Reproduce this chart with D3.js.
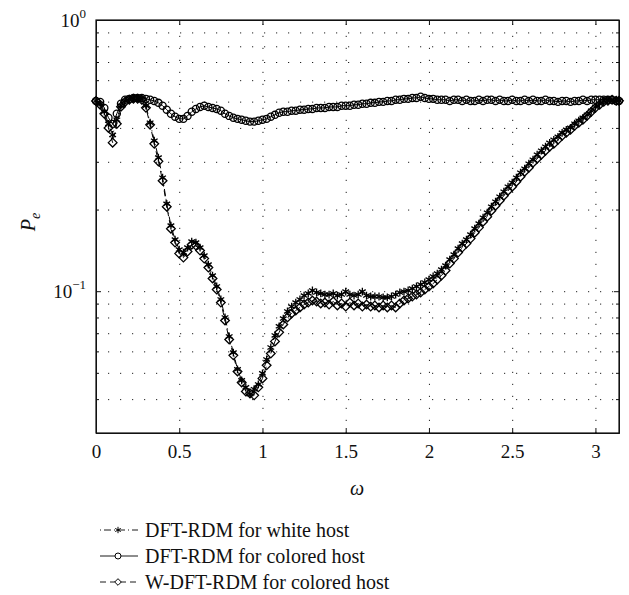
<html>
  <head>
    <title>Pe versus omega</title>
    <style>
      body { margin: 0; background: #fff; }
      svg text { font-family: "Liberation Serif", "DejaVu Serif", serif; fill: #111; }
    </style>
  </head>
  <body>
    <svg id="chart" width="629" height="595"></svg>

    <script type="text/javascript" src="https://cdnjs.cloudflare.com/ajax/libs/d3/7.8.5/d3.min.js"></script>
    <script type="text/javascript">
      // omega grid (x values of every series)
      var omega = [0, 0.025, 0.05, 0.075, 0.1, 0.125, 0.15, 0.175, 0.2, 0.225, 0.25, 0.275, 0.3, 0.325, 0.35, 0.375,
        0.4, 0.425, 0.45, 0.475, 0.5, 0.525, 0.55, 0.575, 0.6, 0.625, 0.65, 0.675, 0.7, 0.725, 0.75, 0.775,
        0.8, 0.825, 0.85, 0.875, 0.9, 0.925, 0.95, 0.975, 1, 1.025, 1.05, 1.075, 1.1, 1.125, 1.15, 1.175,
        1.2, 1.225, 1.25, 1.275, 1.3, 1.325, 1.35, 1.375, 1.4, 1.425, 1.45, 1.475, 1.5, 1.525, 1.55, 1.575,
        1.6, 1.625, 1.65, 1.675, 1.7, 1.725, 1.75, 1.775, 1.8, 1.825, 1.85, 1.875, 1.9, 1.925, 1.95, 1.975,
        2, 2.025, 2.05, 2.075, 2.1, 2.125, 2.15, 2.175, 2.2, 2.225, 2.25, 2.275, 2.3, 2.325, 2.35, 2.375,
        2.4, 2.425, 2.45, 2.475, 2.5, 2.525, 2.55, 2.575, 2.6, 2.625, 2.65, 2.675, 2.7, 2.725, 2.75, 2.775,
        2.8, 2.825, 2.85, 2.875, 2.9, 2.925, 2.95, 2.975, 3, 3.025, 3.05, 3.075, 3.1, 3.125, 3.1416];

      // DFT-RDM for white host
      var peWhite = [0.503, 0.491, 0.459, 0.414, 0.377, 0.429, 0.483, 0.503, 0.512, 0.516, 0.516, 0.512, 0.483, 0.418, 0.359, 0.311,
        0.262, 0.210, 0.1745, 0.155, 0.1424, 0.1388, 0.1448, 0.1524, 0.1511, 0.1448, 0.1353, 0.1254, 0.1142, 0.1041, 0.0932, 0.0800,
        0.0681, 0.0594, 0.0515, 0.0469, 0.0442, 0.0417, 0.0435, 0.0453, 0.0498, 0.0560, 0.0620, 0.0687, 0.0742, 0.0793, 0.0842, 0.0878,
        0.0908, 0.0932, 0.0964, 0.0981, 0.1006, 0.0989, 0.0981, 0.0972, 0.0972, 0.0981, 0.0964, 0.0972, 0.0997, 0.0972, 0.0964, 0.0972,
        0.0997, 0.0964, 0.0956, 0.0956, 0.0956, 0.0948, 0.0948, 0.0956, 0.0972, 0.0989, 0.0997, 0.1006, 0.1023, 0.1041, 0.1059, 0.1077,
        0.1104, 0.1133, 0.1162, 0.1202, 0.1243, 0.1308, 0.1365, 0.1436, 0.1498, 0.1550, 0.1617, 0.1701, 0.1775, 0.1867, 0.1948, 0.2050,
        0.2139, 0.2231, 0.2328, 0.2428, 0.2512, 0.2621, 0.2735, 0.2830, 0.2952, 0.3054, 0.3186, 0.3296, 0.3410, 0.3526, 0.3616, 0.3709,
        0.3837, 0.3937, 0.4005, 0.4144, 0.4251, 0.4360, 0.4472, 0.4626, 0.4785, 0.4908, 0.5034, 0.5077, 0.5077, 0.5077, 0.5034];

      // DFT-RDM for colored host
      var peColored = [0.503, 0.499, 0.474, 0.436, 0.414, 0.451, 0.491, 0.508, 0.512, 0.516, 0.516, 0.516, 0.512, 0.508, 0.503, 0.495,
        0.483, 0.467, 0.451, 0.440, 0.432, 0.432, 0.443, 0.459, 0.470, 0.478, 0.483, 0.478, 0.474, 0.470, 0.463, 0.451,
        0.443, 0.436, 0.432, 0.429, 0.425, 0.422, 0.422, 0.425, 0.429, 0.432, 0.440, 0.447, 0.455, 0.459, 0.459, 0.463,
        0.463, 0.467, 0.467, 0.470, 0.470, 0.474, 0.474, 0.474, 0.478, 0.478, 0.478, 0.483, 0.483, 0.483, 0.487, 0.487,
        0.491, 0.491, 0.495, 0.495, 0.499, 0.499, 0.503, 0.503, 0.508, 0.508, 0.512, 0.512, 0.516, 0.516, 0.521, 0.516,
        0.512, 0.512, 0.508, 0.508, 0.508, 0.503, 0.508, 0.508, 0.503, 0.508, 0.503, 0.503, 0.508, 0.503, 0.508, 0.508,
        0.503, 0.508, 0.503, 0.503, 0.508, 0.503, 0.503, 0.508, 0.503, 0.508, 0.503, 0.503, 0.508, 0.503, 0.503, 0.499,
        0.503, 0.503, 0.499, 0.503, 0.503, 0.508, 0.503, 0.508, 0.508, 0.508, 0.508, 0.508, 0.508, 0.503, 0.503];

      // W-DFT-RDM for colored host
      var peWeighted = [0.503, 0.487, 0.451, 0.400, 0.353, 0.414, 0.479, 0.499, 0.508, 0.512, 0.512, 0.508, 0.4745, 0.411, 0.3497, 0.3011,
        0.2555, 0.2050, 0.1701, 0.1511, 0.1376, 0.1330, 0.1400, 0.1485, 0.1473, 0.1412, 0.1319, 0.1222, 0.1114, 0.1014, 0.0908, 0.0780,
        0.0664, 0.0580, 0.0506, 0.0461, 0.0427, 0.0420, 0.0413, 0.0442, 0.0477, 0.0533, 0.0589, 0.0653, 0.0705, 0.0754, 0.0800, 0.0828,
        0.0849, 0.0871, 0.0893, 0.0908, 0.0924, 0.0916, 0.0901, 0.0908, 0.0893, 0.0916, 0.0886, 0.0901, 0.0878, 0.0908, 0.0886, 0.0901,
        0.0878, 0.0893, 0.0878, 0.0886, 0.0871, 0.0886, 0.0871, 0.0886, 0.0871, 0.0901, 0.0924, 0.0940, 0.0956, 0.0972, 0.0989, 0.1014,
        0.1041, 0.1067, 0.1104, 0.1142, 0.1192, 0.1265, 0.1319, 0.1388, 0.1448, 0.1498, 0.1563, 0.1644, 0.1716, 0.1805, 0.1883, 0.1981,
        0.2067, 0.2157, 0.2250, 0.2348, 0.2428, 0.2534, 0.2643, 0.2759, 0.2854, 0.2977, 0.3080, 0.3186, 0.3296, 0.3410, 0.3497, 0.3616,
        0.3741, 0.3837, 0.3937, 0.4072, 0.4180, 0.4287, 0.4435, 0.4587, 0.4745, 0.4867, 0.4992, 0.5034, 0.5077, 0.5034, 0.5034];

      var xTicks = [0, 0.5, 1, 1.5, 2, 2.5, 3];
      var xTickLabels = ["0", "0.5", "1", "1.5", "2", "2.5", "3"];
      var yMajor = [1, 0.1];
      var yMajorExp = ["0", "\u22121"];
      var yMinor = [0.03, 0.04, 0.05, 0.06, 0.07, 0.08, 0.09, 0.2, 0.3, 0.4, 0.5, 0.6, 0.7, 0.8, 0.9];
      var legendLabels = ["DFT-RDM for white host", "DFT-RDM for colored host", "W-DFT-RDM for colored host"];

      var plotL = 96, plotR = 619, plotT = 20, plotB = 433;
      var svg = d3.select('#chart');

      var x = d3.scaleLinear().domain([0, Math.PI]).range([plotL, plotR]);
      var y = d3.scaleLog().domain([0.03, 1]).range([plotB, plotT]);

      // dotted grid
      var gridX = svg.append('g').attr('transform', 'translate(0,' + plotB + ')')
        .call(d3.axisBottom(x).tickValues(xTicks.slice(1)).tickSize(-(plotB - plotT)).tickFormat(''));
      var gridY = svg.append('g').attr('transform', 'translate(' + plotL + ',0)')
        .call(d3.axisLeft(y).tickValues([0.1].concat(yMinor.slice(1))).tickSize(-(plotR - plotL)).tickFormat(''));
      [gridX, gridY].forEach(function (g) {
        g.select('.domain').remove();
        g.selectAll('line').attr('stroke', '#222').attr('stroke-width', 1).attr('stroke-dasharray', '1.2,10.8');
      });

      // frame and inward ticks on all four sides
      svg.append('rect').attr('x', plotL).attr('y', plotT).attr('width', plotR - plotL).attr('height', plotB - plotT)
        .attr('fill', 'none').attr('stroke', '#111').attr('stroke-width', 1.2);

      var xAxis = svg.append('g').attr('transform', 'translate(0,' + plotB + ')')
        .call(d3.axisBottom(x).tickValues(xTicks).tickSize(-5).tickSizeOuter(0).tickPadding(12)
          .tickFormat(function (d, i) { return xTickLabels[i]; }));
      svg.append('g').attr('transform', 'translate(0,' + plotT + ')')
        .call(d3.axisTop(x).tickValues(xTicks).tickSize(-5).tickSizeOuter(0).tickFormat(''));
      svg.append('g').attr('transform', 'translate(' + plotL + ',0)')
        .call(d3.axisLeft(y).tickValues(yMajor).tickSize(-5).tickSizeOuter(0).tickFormat(''));
      svg.append('g').attr('transform', 'translate(' + plotL + ',0)')
        .call(d3.axisLeft(y).tickValues(yMinor).tickSize(-3).tickSizeOuter(0).tickFormat(''));
      svg.append('g').attr('transform', 'translate(' + plotR + ',0)')
        .call(d3.axisRight(y).tickValues(yMajor).tickSize(-5).tickSizeOuter(0).tickFormat(''));
      svg.append('g').attr('transform', 'translate(' + plotR + ',0)')
        .call(d3.axisRight(y).tickValues(yMinor).tickSize(-3).tickSizeOuter(0).tickFormat(''));
      svg.selectAll('.domain').attr('stroke', '#111');
      svg.selectAll('.tick line').filter(function () { return !this.getAttribute('stroke-dasharray'); })
        .attr('stroke', '#111');

      xAxis.selectAll('text').attr('font-family', '"Liberation Serif", serif').attr('font-size', 19).attr('fill', '#111');

      // y tick labels 10^0, 10^-1
      yMajor.forEach(function (v, i) {
        var t = svg.append('text').attr('x', 86).attr('y', y(v) + 6.7)
          .attr('text-anchor', 'end').attr('font-size', 19);
        t.append('tspan').text('10');
        t.append('tspan').attr('dy', -9).attr('font-size', 13).text(yMajorExp[i]);
      });

      // axis titles
      svg.append('text').attr('x', 357).attr('y', 495).attr('text-anchor', 'middle')
        .attr('font-size', 20).attr('font-style', 'italic').text('\u03c9');
      var pe = svg.append('text').attr('transform', 'translate(35,222) rotate(-90)')
        .attr('text-anchor', 'middle').attr('font-size', 20).attr('font-style', 'italic');
      pe.append('tspan').text('P');
      pe.append('tspan').attr('dy', 5).attr('font-size', 14).text('e');

      // series
      var series = [
        { values: peWhite, symbol: d3.symbolAsterisk, size: 42, dash: '1,3,7,3' },
        { values: peColored, symbol: d3.symbolCircle, size: 40, dash: null },
        { values: peWeighted, symbol: d3.symbolDiamond2, size: 48, dash: '6,4' }
      ];

      var line = d3.line()
        .x(function (d) { return x(d[0]); })
        .y(function (d) { return y(d[1]); });

      series.forEach(function (s) {
        var pts = omega.map(function (w, i) { return [w, s.values[i]]; });
        svg.append('path').datum(pts).attr('d', line)
          .attr('fill', 'none').attr('stroke', '#000').attr('stroke-width', 1)
          .attr('stroke-dasharray', s.dash);
        svg.append('g').selectAll('path').data(pts).enter().append('path')
          .attr('transform', function (d) { return 'translate(' + x(d[0]) + ',' + y(d[1]) + ')'; })
          .attr('d', d3.symbol(s.symbol, s.size))
          .attr('fill', 'none').attr('stroke', '#000').attr('stroke-width', 1.3);
      });

      // legend below the axes
      var legend = svg.append('g');
      series.forEach(function (s, i) {
        var ly = 530 + i * 26;
        legend.append('line').attr('x1', 100).attr('x2', 138).attr('y1', ly).attr('y2', ly)
          .attr('stroke', '#000').attr('stroke-width', 0.9).attr('stroke-dasharray', s.dash);
        legend.append('path').attr('transform', 'translate(118,' + ly + ')')
          .attr('d', d3.symbol(s.symbol, 28))
          .attr('fill', '#fff').attr('stroke', '#000').attr('stroke-width', 1);
        legend.append('text').attr('x', 145).attr('y', ly).attr('dy', '0.35em')
          .attr('font-size', 20).text(legendLabels[i]);
      });
    </script>
  </body>
</html>
